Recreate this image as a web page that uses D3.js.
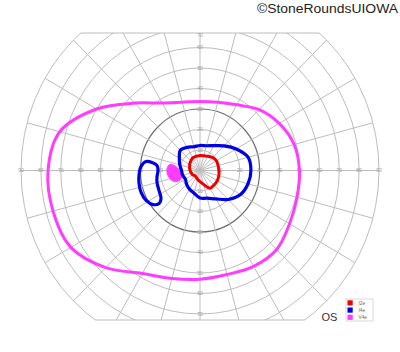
<!DOCTYPE html>
<html>
<head>
<meta charset="utf-8">
<script src="https://cdn.jsdelivr.net/npm/d3@7"></script>
<style>
  html, body { margin: 0; padding: 0; background: #fff; }
  svg { display: block; font-family: "Liberation Sans", Arial, sans-serif; }
</style>
</head>
<body>
<div id="chartArea"></div>
<script>

// grid: rings (degrees of eccentricity) and meridians (degrees of angle)
var ringDegrees = [10, 20, 30, 40, 50, 60, 70, 80, 90];
var meridianDegrees = [0, 15, 30, 45, 60, 75, 90, 105, 120, 135, 150, 165, 180, 195, 210, 225, 240, 255, 270, 285, 300, 315, 330, 345];
var hTickLabels = ['10', '20', '30', '40', '50', '60', '70', '80', '90'];
var vTickLabels = ['10', '20', '30', '40', '50', '60', '70'];

// isopters as [meridian angle, eccentricity] pairs
var isopterNames = ['I2e', 'I4e', 'V4e'];
var isopterColors = ['#ee0000', '#0000e6', '#ff3cff'];

var isopterI2e = [[0, 9.5], [30, 9.5], [45, 9], [60, 8], [90, 7.3], [120, 7.2], [135, 6.5], [150, 6], [180, 5],
  [210, 4.2], [225, 3.6], [240, 3.8], [255, 4.5], [270, 5.4], [285, 7], [300, 10], [315, 10], [330, 10], [345, 9.8]];

var isopterI4e = [[0, 25.6], [15, 25], [30, 21], [45, 17], [60, 14], [75, 12.5], [90, 12.2], [105, 12], [120, 13],
  [135, 14], [150, 12], [165, 10.5], [180, 9.3], [195, 9], [210, 8.5], [225, 9.5], [240, 10.5], [255, 11.5],
  [270, 13.4], [285, 14], [300, 16], [315, 20], [330, 23.5], [345, 25]];

var isopterI4eIsland = [[170.8, 27.5], [170.8, 24.4], [173.7, 21.7], [180, 21.1], [187.7, 21.8], [195.2, 22.4],
  [205.4, 22.8], [214.9, 23.9], [218, 26.1], [215.1, 28.9], [208.3, 30.8], [199.9, 31.5], [191.6, 31.3],
  [183.7, 30.7], [176.1, 29.7]];

var isopterV4e = [[0, 50], [15, 49], [30, 46], [45, 42], [60, 37], [75, 34.5], [90, 33.7], [105, 34.5], [120, 38],
  [135, 46.5], [150, 60], [165, 73], [180, 76.4], [195, 76.5], [210, 75], [225, 67], [240, 58], [255, 54.5],
  [270, 53], [285, 52.5], [300, 54], [315, 54.5], [330, 52], [345, 50.5]];

var scotomaV4e = [[169.1, 15.4], [170.6, 12.2], [185.7, 10.1], [202.3, 10.3], [205, 12.8], [199.2, 14.9],
  [188.5, 16.3], [176.6, 16.6]];


var width = 400, height = 352;
var cx = 200, cy = 170.5;
var clipTop = 33, clipBottom = 320;

var svg = d3.select('#chartArea').append('svg')
  .attr('width', width)
  .attr('height', height);

// scales: degrees -> pixels (chart is a bit taller than wide)
var x = d3.scaleLinear().domain([-90, 90]).range([cx - 179, cx + 179]);
var y = d3.scaleLinear().domain([-90, 90]).range([cy + 184.5, cy - 184.5]);

function toXY(d) {
  var a = d[0] * Math.PI / 180;
  return [x(d[1] * Math.cos(a)), y(d[1] * Math.sin(a))];
}

var defs = svg.append('defs');
defs.append('clipPath').attr('id', 'band')
  .append('rect')
  .attr('x', 0).attr('y', clipTop)
  .attr('width', width).attr('height', clipBottom - clipTop);

var grid = svg.append('g').attr('clip-path', 'url(#band)');

// rings
grid.selectAll('ellipse')
  .data(ringDegrees)
  .enter()
  .append('ellipse')
  .attr('cx', x(0))
  .attr('cy', y(0))
  .attr('rx', function (d) { return x(d) - x(0); })
  .attr('ry', function (d) { return y(0) - y(d); })
  .attr('fill', 'none')
  .attr('stroke', function (d) { return d === 30 ? '#6e6e6e' : '#bdbdbd'; })
  .attr('stroke-width', function (d) { return d === 30 ? 1.2 : 1; });

// meridians
grid.selectAll('line.meridian')
  .data(meridianDegrees)
  .enter()
  .append('line')
  .attr('class', 'meridian')
  .attr('x1', function (d) { return toXY([d, 0])[0]; })
  .attr('y1', function (d) { return toXY([d, 0])[1]; })
  .attr('x2', function (d) { return toXY([d, 90])[0]; })
  .attr('y2', function (d) { return toXY([d, 90])[1]; })
  .attr('stroke', '#bdbdbd')
  .attr('stroke-width', 1);

// flat top and bottom edges where the outer ring is cut
[clipTop, clipBottom].forEach(function (yy) {
  var rx = x(90) - x(0), ry = y(0) - y(90);
  var t = (yy - y(0)) / ry;
  var half = rx * Math.sqrt(1 - t * t);
  svg.append('line')
    .attr('x1', x(0) - half).attr('x2', x(0) + half)
    .attr('y1', yy).attr('y2', yy)
    .attr('stroke', '#bdbdbd')
    .attr('stroke-width', 1);
});

// tick labels
var labels = svg.append('g')
  .attr('font-size', 5)
  .attr('fill', '#9a9a9a')
  .attr('text-anchor', 'middle');

hTickLabels.forEach(function (t) {
  [-1, 1].forEach(function (s) {
    labels.append('text')
      .attr('x', x(s * +t))
      .attr('y', y(0) + 1.5)
      .text(t);
  });
});
vTickLabels.forEach(function (t) {
  [-1, 1].forEach(function (s) {
    labels.append('text')
      .attr('x', x(0))
      .attr('y', Math.max(clipTop + 3.5, Math.min(clipBottom - 4, y(s * +t) + 1.5)))
      .text(t);
  });
});

// isopters
var line = d3.line()
  .x(function (d) { return toXY(d)[0]; })
  .y(function (d) { return toXY(d)[1]; })
  .curve(d3.curveCatmullRomClosed.alpha(0.5));

svg.append('path')
  .datum(scotomaV4e)
  .attr('d', line)
  .attr('fill', isopterColors[2])
  .attr('stroke', isopterColors[2])
  .attr('stroke-width', 1);

svg.append('path')
  .datum(isopterV4e)
  .attr('d', line)
  .attr('fill', 'none')
  .attr('stroke', isopterColors[2])
  .attr('stroke-width', 3);

[isopterI4e, isopterI4eIsland].forEach(function (iso) {
  svg.append('path')
    .datum(iso)
    .attr('d', line)
    .attr('fill', 'none')
    .attr('stroke', isopterColors[1])
    .attr('stroke-width', 3.2);
});

svg.append('path')
  .datum(isopterI2e)
  .attr('d', line)
  .attr('fill', 'none')
  .attr('stroke', isopterColors[0])
  .attr('stroke-width', 3);

// eye label
svg.append('text')
  .attr('x', 321.5)
  .attr('y', 320.5)
  .attr('font-size', 11)
  .attr('fill', '#333')
  .text('OS');

// legend
var legend = svg.append('g').attr('transform', 'translate(346,299)');
legend.append('rect')
  .attr('width', 27).attr('height', 22)
  .attr('fill', '#fff')
  .attr('stroke', '#cfcfcf')
  .attr('stroke-width', 0.8);

var item = legend.selectAll('g.item')
  .data(isopterNames)
  .enter()
  .append('g')
  .attr('class', 'item')
  .attr('transform', function (d, i) { return 'translate(1.5,' + (1.3 + i * 7.2) + ')'; });

item.append('rect')
  .attr('width', 5.2).attr('height', 5.2)
  .attr('fill', function (d, i) { return isopterColors[i]; });

item.append('text')
  .attr('x', 11)
  .attr('y', 4.5)
  .attr('font-size', 4.8)
  .attr('fill', '#666')
  .text(function (d) { return d; });

// watermark
svg.append('text')
  .attr('x', 257)
  .attr('y', 12.5)
  .attr('font-size', 12)
  .attr('textLength', 141)
  .attr('lengthAdjust', 'spacingAndGlyphs')
  .attr('fill', '#222')
  .text('\u00A9StoneRoundsUIOWA');

</script>
</body>
</html>
